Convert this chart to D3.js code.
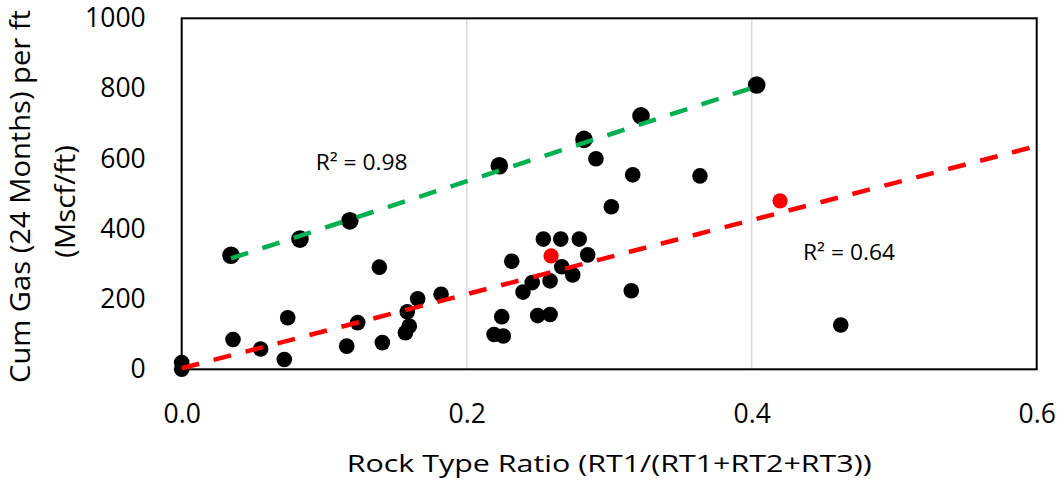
<!DOCTYPE html>
<html>
<head>
<meta charset="utf-8">
<script src="https://cdn.jsdelivr.net/npm/d3@7"></script>
<style>
  body { margin: 0; background: #fff; }
  text { font-family: "Open Sans", "DejaVu Sans", sans-serif; fill: #000; }
</style>
</head>
<body>
<script>
// points sitting on the green fit (drawn a little larger)
var upperWells = [[0.0346, 325], [0.083, 371], [0.118, 423], [0.2229, 580],
  [0.2823, 655], [0.3223, 722], [0.4035, 810]];

// the rest of the wells
var otherWells = [[0, 19], [0, 0], [0.036, 85], [0.0554, 58], [0.072, 28], [0.0744, 147],
  [0.1158, 66], [0.1235, 133], [0.1408, 76], [0.1387, 291], [0.157, 104], [0.1597, 123],
  [0.1583, 164], [0.1656, 201], [0.182, 214], [0.2192, 99], [0.2257, 95], [0.2246, 150],
  [0.2395, 220], [0.246, 247], [0.2316, 308], [0.2498, 153], [0.2585, 156], [0.2585, 252],
  [0.2538, 371], [0.266, 371], [0.279, 371], [0.2667, 292], [0.2744, 269], [0.2849, 326],
  [0.2907, 600], [0.3015, 463], [0.3155, 224], [0.3165, 554], [0.3637, 551], [0.4625, 126]];

// highlighted wells
var redWells = [[0.2592, 323], [0.4199, 480]];

// trendline end points
var greenTrend = [[0.0346, 316], [0.4035, 806]];
var redTrend = [[0, 3], [0.6, 636]];

var xTicks = [0, 0.2, 0.4, 0.6];
var yTicks = [0, 200, 400, 600, 800, 1000];
var rLabels = [{text: "R² = 0.98", x: 0.094, y: 567}, {text: "R² = 0.64", x: 0.436, y: 310}];

var width = 1062, height = 482;
var plotLeft = 181.7, plotRight = 1036.7, plotTop = 18.3, plotBottom = 369.3;

var x = d3.scaleLinear().domain([0, 0.6]).range([plotLeft, plotRight]);
var y = d3.scaleLinear().domain([0, 1000]).range([plotBottom, plotTop]);

var svg = d3.select("body").append("svg")
  .attr("width", width)
  .attr("height", height);

// vertical gridlines
svg.selectAll(".grid")
  .data([0.2, 0.4])
  .enter().append("line")
  .attr("x1", function(d) { return x(d); })
  .attr("x2", function(d) { return x(d); })
  .attr("y1", plotTop)
  .attr("y2", plotBottom)
  .attr("stroke", "#d9d9d9")
  .attr("stroke-width", 1.5);

// plot frame
svg.append("rect")
  .attr("x", plotLeft).attr("y", plotTop)
  .attr("width", plotRight - plotLeft).attr("height", plotBottom - plotTop)
  .attr("fill", "none")
  .attr("stroke", "#000")
  .attr("stroke-width", 2);

// axes (labels only)
var yAxis = svg.append("g")
  .attr("transform", "translate(" + plotLeft + ",0)")
  .call(d3.axisLeft(y).tickValues(yTicks).tickFormat(d3.format("d")).tickSize(0).tickPadding(36));
var xAxis = svg.append("g")
  .attr("transform", "translate(0," + plotBottom + ")")
  .call(d3.axisBottom(x).tickValues(xTicks).tickFormat(d3.format(".1f")).tickSize(0).tickPadding(35));
[yAxis, xAxis].forEach(function(g) {
  g.select(".domain").remove();
  g.selectAll("text")
    .attr("font-family", "Open Sans, DejaVu Sans, sans-serif")
    .attr("font-size", 26.5)
    .attr("fill", "#000");
});

// markers
function dots(data, r, color) {
  svg.append("g").selectAll("circle")
    .data(data)
    .enter().append("circle")
    .attr("cx", function(d) { return x(d[0]); })
    .attr("cy", function(d) { return y(d[1]); })
    .attr("r", r)
    .attr("fill", color);
}
dots(otherWells, 7.8, "#000");
dots(upperWells, 8.8, "#000");
dots(redWells, 7.6, "#ff0000");

// trendlines on top of the markers
var line = d3.line()
  .x(function(d) { return x(d[0]); })
  .y(function(d) { return y(d[1]); });

svg.append("path")
  .datum(greenTrend)
  .attr("d", line)
  .attr("fill", "none")
  .attr("stroke", "#00b050")
  .attr("stroke-width", 4.5)
  .attr("stroke-dasharray", "18,15");

svg.append("path")
  .datum(redTrend)
  .attr("d", line)
  .attr("fill", "none")
  .attr("stroke", "#ff0000")
  .attr("stroke-width", 4.5)
  .attr("stroke-dasharray", "18,15");

// R squared labels
svg.selectAll(".rlab")
  .data(rLabels)
  .enter().append("text")
  .attr("x", function(d) { return x(d.x); })
  .attr("y", function(d) { return y(d.y); })
  .attr("font-size", 21)
  .attr("textLength", 92)
  .attr("lengthAdjust", "spacingAndGlyphs")
  .text(function(d) { return d.text; });

// axis titles
svg.append("text")
  .attr("x", (plotLeft + plotRight) / 2)
  .attr("y", 471.7)
  .attr("text-anchor", "middle")
  .attr("font-size", 23.5)
  .attr("textLength", 525)
  .attr("lengthAdjust", "spacingAndGlyphs")
  .text("Rock Type Ratio (RT1/(RT1+RT2+RT3))");

svg.append("text")
  .attr("transform", "translate(30,196.5) rotate(-90)")
  .attr("text-anchor", "middle")
  .attr("font-size", 27)
  .attr("textLength", 373)
  .attr("lengthAdjust", "spacingAndGlyphs")
  .text("Cum Gas (24 Months) per ft");

svg.append("text")
  .attr("transform", "translate(75,201.5) rotate(-90)")
  .attr("text-anchor", "middle")
  .attr("font-size", 27)
  .attr("textLength", 113)
  .attr("lengthAdjust", "spacingAndGlyphs")
  .text("(Mscf/ft)");
</script>
</body>
</html>
